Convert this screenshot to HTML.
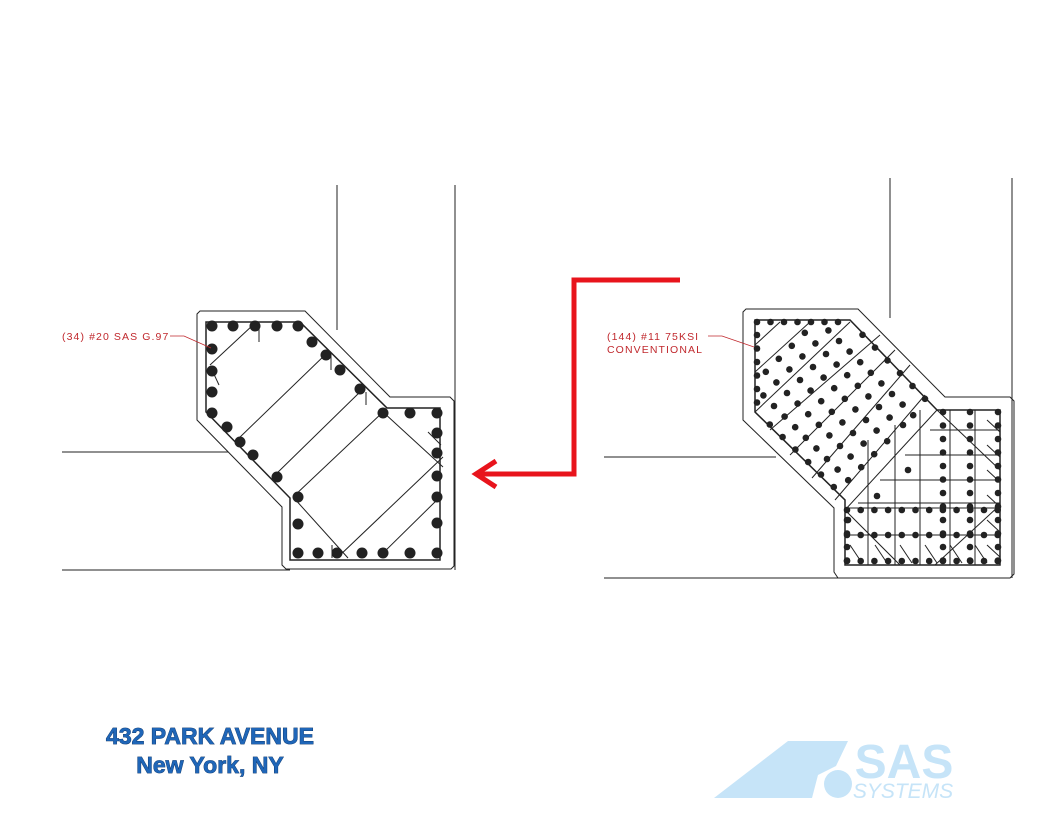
<!DOCTYPE html>
<html><head><meta charset="utf-8"><style>
html,body{margin:0;padding:0;background:#fff;width:1056px;height:816px;overflow:hidden}
svg{position:absolute;left:0;top:0}
.t{font-family:"Liberation Sans",Arial,sans-serif;font-weight:bold;font-size:23px;fill:#1f66b8;stroke:#0d3466;stroke-width:0.8;paint-order:stroke}
.r{font-family:"Liberation Sans",Arial,sans-serif;font-size:10.5px;fill:#c0282d;letter-spacing:1.1px}
</style></head><body>
<svg id="s" width="1056" height="816" viewBox="0 0 1056 816" xmlns="http://www.w3.org/2000/svg">
<g stroke="#222" stroke-width="1" fill="none">
<line x1="337" y1="185" x2="337" y2="330"/><line x1="455" y1="185" x2="455" y2="570"/>
<line x1="62" y1="452" x2="228" y2="452"/><line x1="62" y1="570" x2="290" y2="570"/>
<path d="M200,311 L305,311 L390,397 L450,397 L454,401 L454,566 L451,569 L286,569 L282,565 L282,507 L197,420 L197,314 Z"/>
<path d="M206,322 L300,322 L387,408 L440,408 L440,560 L290,560 L290,498 L206,412 Z" stroke-width="1.5"/>
<line x1="210" y1="365" x2="253" y2="325"/><line x1="237" y1="440" x2="327" y2="353"/>
<line x1="273" y1="477" x2="362" y2="390"/><line x1="293" y1="497" x2="383" y2="412"/>
<line x1="337" y1="558" x2="443" y2="457"/><line x1="380" y1="556" x2="440" y2="497"/>
<line x1="383" y1="412" x2="443" y2="467"/><line x1="293" y1="497" x2="348" y2="558"/>
<line x1="259" y1="327" x2="259" y2="342"/><line x1="331" y1="355" x2="331" y2="370"/>
<line x1="366" y1="392" x2="366" y2="405"/><line x1="212" y1="370" x2="219" y2="385"/>
<line x1="428" y1="432" x2="441" y2="445"/><line x1="332" y1="545" x2="332" y2="558"/>
<line x1="890" y1="178" x2="890" y2="318"/><line x1="1012" y1="178" x2="1012" y2="578"/>
<line x1="604" y1="457" x2="776" y2="457"/><line x1="604" y1="578" x2="840" y2="578"/>
<path d="M746,309 L858,309 L945,397 L1010,397 L1014,401 L1014,574 L1010,578 L838,578 L834,572 L834,508 L743,420 L743,312 Z"/>
<path d="M755,320 L850,320 L937,410 L1000,410 L1000,565 L845,565 L845,500 L755,412 Z" stroke-width="1.5"/>
<g id="rl"></g>
</g>
<g id="dots" fill="#222"></g>
<polyline points="680,280 574,280 574,474 476,474" fill="none" stroke="#e8141c" stroke-width="5"/>
<polyline points="496,461 476,474 496,487" fill="none" stroke="#e8141c" stroke-width="5" stroke-linejoin="miter"/>
<text class="r" x="62" y="340">(34) #20 SAS G.97</text>
<polyline points="170,336 184,336 211,348" fill="none" stroke="#c0282d" stroke-width="0.8"/>
<text class="r" x="607" y="340">(144) #11 75KSI</text>
<text class="r" x="607" y="353">CONVENTIONAL</text>
<polyline points="708,336 722,336 754,347" fill="none" stroke="#c0282d" stroke-width="0.8"/>
<text class="t" x="210" y="744" text-anchor="middle">432 PARK AVENUE</text>
<text class="t" x="210" y="773" text-anchor="middle">New York, NY</text>
<g fill="#c6e4f8">
<polygon points="714,798 788,741 848,741 836,766 818,775 812,798"/>
<circle cx="838" cy="784" r="14"/>
<text x="904" y="778" text-anchor="middle" font-family="Liberation Sans,Arial,sans-serif" font-weight="bold" font-size="48">SAS</text>
<text x="903" y="798" text-anchor="middle" font-family="Liberation Sans,Arial,sans-serif" font-style="italic" font-size="21">SYSTEMS</text>
</g>
</svg>
<script>
var NS="http://www.w3.org/2000/svg",D=document.getElementById("dots"),L=document.getElementById("rl");
function c(x,y,r){var e=document.createElementNS(NS,"circle");e.setAttribute("cx",x);e.setAttribute("cy",y);e.setAttribute("r",r);D.appendChild(e);}
function ln(a,b,cc,d){var e=document.createElementNS(NS,"line");e.setAttribute("x1",a);e.setAttribute("y1",b);e.setAttribute("x2",cc);e.setAttribute("y2",d);L.appendChild(e);}
var left=[[212,326],[233,326],[255,326],[277,326],[298,326],[312,342],[326,355],[340,370],[360,389],[383,413],[410,413],[437,413],[437,433],[437,453],[437,476],[437,497],[437,523],[437,553],[298,553],[318,553],[337,553],[362,553],[383,553],[410,553],[298,524],[298,497],[277,477],[253,455],[240,442],[227,427],[212,413],[212,392],[212,371],[212,349]];
left.forEach(function(p){c(p[0],p[1],5.5)});
var xs=[],i;for(i=0;i<12;i++)xs.push(847+i*13.7);
xs.forEach(function(x){c(x,510,3.3);c(x,535,3.3);c(x,561,3.3)});
for(var y=412;y<=561;y+=13.5){c(943,y,3.3);c(970,y,3.3);c(998,y,3.3)}
for(y=520;y<=561;y+=13.5)c(847,y,3.3);
for(var x=757;x<=850;x+=13.5)c(x,322,3.3);
for(y=335;y<=412;y+=13.5)c(757,y,3.3);
for(i=1;i<7;i++)c(850+i*12.5,322+i*12.8,3.3);
for(i=1;i<7;i++)c(757+i*12.8,412+i*12.5,3.3);
function inside(x,y){return x>762&&y>328&&(x-y)<520&&(x-y)>345&&(x+y)>1130&&(x+y)<1345}
for(var a=-8;a<12;a++)for(var b=-12;b<12;b++){var px=800+a*13+b*10.6,py=380-a*13+b*10.6;if(inside(px,py)&&py<505&&!(px>900&&py>420))c(px,py,3.3)}
[[908,470],[877,496],[903,425],[848,520]].forEach(function(p){c(p[0],p[1],3.3)});
ln(755,345,780,322);ln(755,372,810,322);ln(755,412,850,322);ln(770,430,880,335);ln(790,455,895,350);ln(812,478,910,365);ln(835,500,925,395);ln(845,510,937,410);
ln(845,510,900,565);ln(937,410,1000,470);ln(935,565,1000,505);
[[848,508,1000,508],[848,535,1000,535],[880,480,1000,480],[905,455,1000,455],[930,430,1000,430],[858,503,1000,503]].forEach(function(q){ln(q[0],q[1],q[2],q[3])});
[[868,440,868,565],[895,425,895,565],[920,410,920,565],[950,410,950,565],[975,410,975,565]].forEach(function(q){ln(q[0],q[1],q[2],q[3])});
for(i=0;i<6;i++)ln(850+i*25,545,862+i*25,563);
for(i=0;i<6;i++)ln(987,420+i*25,1000,432+i*25);
</script>
</body></html>
